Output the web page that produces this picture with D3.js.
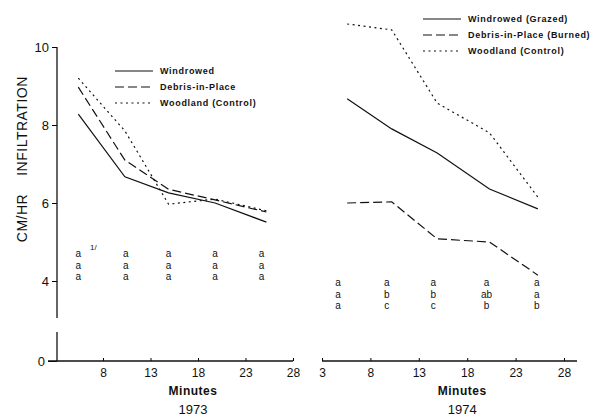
<html>
<head>
    <meta charset="utf-8">
    <script src="https://d3js.org/d3.v7.min.js"></script>
    <style>
        body { margin: 0; background: #fff; }
        text { font-family: "Liberation Sans", Arial, sans-serif; fill: #111; }
    </style>
</head>
<body>
<svg id="chart" width="607" height="417"></svg>
<script>
// 1973 data
let minutes73 = [5.4, 10.3, 14.9, 19.8, 25.2]
let windrowed73 = [8.28, 6.67, 6.26, 6.0, 5.51]
let debris73 = [8.97, 7.1, 6.35, 6.08, 5.77]
let woodland73 = [9.2, 7.85, 5.97, 6.1, 5.8]
let letterMin73 = [5.4, 10.4, 14.9, 19.8, 24.7]
let letters73 = [["a","a","a"], ["a","a","a"], ["a","a","a"], ["a","a","a"], ["a","a","a"]]

// 1974 data
let minutes74 = [5.6, 10.2, 14.9, 20.3, 25.3]
let windrowed74 = [8.67, 7.9, 7.28, 6.36, 5.85]
let debris74 = [6.0, 6.03, 5.08, 5.0, 4.15]
let woodland74 = [10.59, 10.44, 8.56, 7.8, 6.15]
let letterMin74 = [4.65, 9.7, 14.5, 20.0, 25.2]
let letters74 = [["a","a","a"], ["a","b","c"], ["a","b","c"], ["a","ab","b"], ["a","a","b"]]

let yTicks = [0, 4, 6, 8, 10]
let xTicks73 = [8, 13, 18, 23, 28]
let xTicks74 = [3, 8, 13, 18, 23, 28]
let legend73 = ["Windrowed", "Debris-in-Place", "Woodland (Control)"]
let legend74 = ["Windrowed (Grazed)", "Debris-in-Place (Burned)", "Woodland (Control)"]

let svg = d3.select("#chart")

// broken y axis: 0 sits just below the break
let y = d3.scaleLinear().domain([0, 3, 10]).range([361, 320, 47])
let x73 = d3.scaleLinear().domain([3, 28]).range([55.5, 293])
let x74 = d3.scaleLinear().domain([3, 28]).range([322, 564])

let dashes = [null, "9,4", "2,3.5"]

// y axis
let yAxis = svg.append("g")
    .attr("transform", "translate(57,0)")
    .call(d3.axisLeft(y).tickValues(yTicks).tickSize(5).tickPadding(3))
yAxis.select(".domain").remove()
yAxis.selectAll("text").style("font-size", "13px")
yAxis.selectAll(".tick").filter(d => d == 0).select("line").attr("x2", -9)
yAxis.selectAll(".tick").filter(d => d == 0).select("text").attr("x", -12)
svg.append("line").attr("x1", 57).attr("x2", 57).attr("y1", y(10)).attr("y2", 318).attr("stroke", "#111").attr("stroke-width", 1.3)
svg.append("line").attr("x1", 57).attr("x2", 57).attr("y1", 332).attr("y2", y(0)).attr("stroke", "#111").attr("stroke-width", 1.3)

svg.append("text").attr("transform", "translate(27,126) rotate(-90)")
    .attr("text-anchor", "middle").style("font-size", "14px").style("letter-spacing", "0.5px")
    .text("INFILTRATION")
svg.append("text").attr("transform", "translate(27,218) rotate(-90)")
    .attr("text-anchor", "middle").style("font-size", "14px").style("letter-spacing", "0.5px")
    .text("CM/HR")

function panel(x, ticks, lineStart, lineEnd, minutes, series, letterMin, letters, letterTop, legend, lx, ly, year) {
    let ax = svg.append("g")
        .attr("transform", `translate(0,${y(0)})`)
        .call(d3.axisBottom(x).tickValues(ticks).tickSize(-3).tickPadding(7))
    ax.select(".domain").remove()
    ax.selectAll("text").style("font-size", "12px")
    svg.append("line").attr("x1", lineStart).attr("x2", lineEnd)
        .attr("y1", y(0)).attr("y2", y(0)).attr("stroke", "#111").attr("stroke-width", 1.3)

    let line = d3.line().x(d => x(d[0])).y(d => y(d[1]))
    series.forEach((s, i) => {
        svg.append("path")
            .attr("d", line(minutes.map((m, j) => [m, s[j]])))
            .attr("fill", "none").attr("stroke", "#111").attr("stroke-width", 1.2)
            .attr("stroke-dasharray", dashes[i])
    })

    // significance letters, stacked in three rows per time
    letters.forEach((col, i) => {
        col.forEach((t, r) => {
            svg.append("text").attr("x", x(letterMin[i])).attr("y", letterTop + r * 11.5)
                .attr("text-anchor", "middle").style("font-size", "10px").text(t)
        })
    })

    legend.forEach((t, i) => {
        svg.append("line").attr("x1", lx).attr("x2", lx + 38)
            .attr("y1", ly + i * 16).attr("y2", ly + i * 16)
            .attr("stroke", "#111").attr("stroke-width", 1.1).attr("stroke-dasharray", dashes[i])
        svg.append("text").attr("x", lx + 45).attr("y", ly + i * 16)
            .attr("dy", "0.35em").style("font-size", "9px").style("font-weight", "bold")
            .style("letter-spacing", "0.7px").text(t)
    })

    let cx = (x(8) + x(28)) / 2 - 5
    svg.append("text").attr("x", cx).attr("y", 395).attr("text-anchor", "middle")
        .style("font-size", "12px").style("font-weight", "bold").style("letter-spacing", "0.5px").text("Minutes")
    svg.append("text").attr("x", cx).attr("y", 414).attr("text-anchor", "middle")
        .style("font-size", "13px").text(year)
}

panel(x73, xTicks73, 48, 293, minutes73, [windrowed73, debris73, woodland73],
    letterMin73, letters73, 257, legend73, 115, 71, "1973")
panel(x74, xTicks74, 322, 577, minutes74, [windrowed74, debris74, woodland74],
    letterMin74, letters74, 286, legend74, 423, 19, "1974")

// footnote mark on the 1973 letters
svg.append("text").attr("x", 90).attr("y", 250).style("font-size", "8px").text("1/")
</script>
</body>
</html>
